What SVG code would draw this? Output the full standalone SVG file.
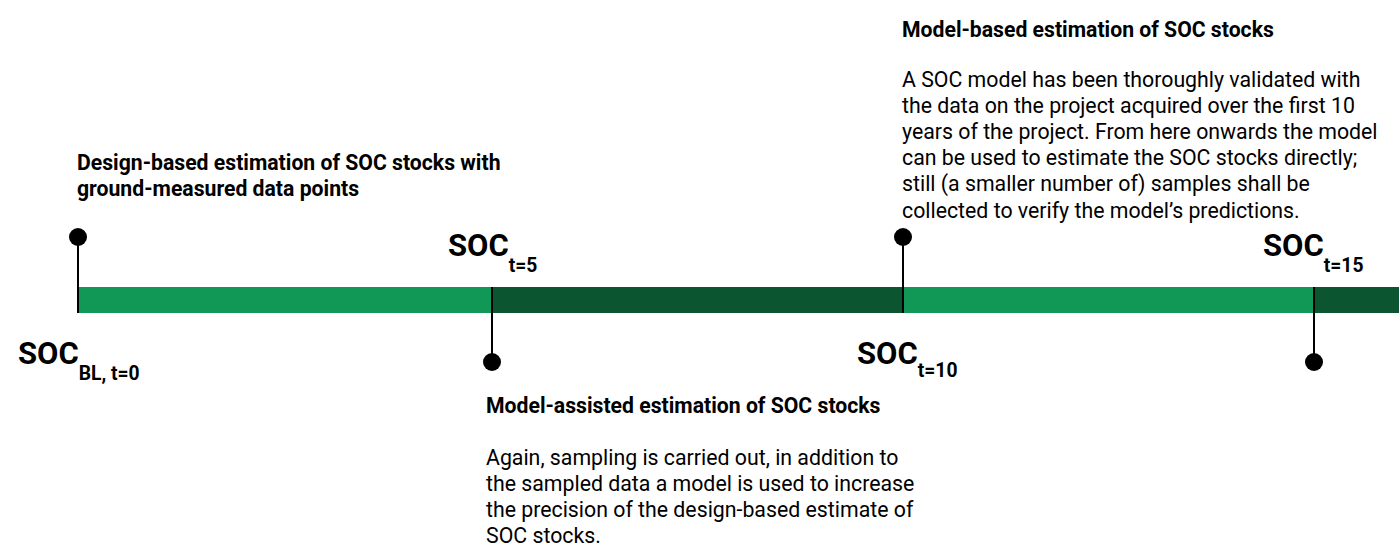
<svg xmlns="http://www.w3.org/2000/svg" width="1399" height="558" viewBox="0 0 1399 558">
<style>
.h{font-family:Roboto,"Liberation Sans",sans-serif;font-weight:bold;font-size:21.2px;fill:#000}
.b{font-family:Roboto,"Liberation Sans",sans-serif;font-size:21.3px;fill:#000}
.soc{font-family:Roboto,"Liberation Sans",sans-serif;font-weight:bold;font-size:31px;fill:#000}
.sub{font-size:19.3px}
.lt{fill:#119856}
.dk{fill:#0b5530}
.st{stroke:#000;stroke-width:2}
</style>
<rect width="1399" height="558" fill="#fff"/>
<g id="bar">
<rect class="lt" x="78" y="287" width="414" height="26"/>
<rect class="dk" x="492" y="287" width="411" height="26"/>
<rect class="lt" x="903" y="287" width="410" height="26"/>
<rect class="dk" x="1313" y="287" width="86" height="26"/>
</g>
<g id="connectors">
<line class="st" x1="78" y1="237" x2="78" y2="313"/>
<line class="st" x1="492" y1="287" x2="492" y2="362"/>
<line class="st" x1="903" y1="237" x2="903" y2="313"/>
<line class="st" x1="1314" y1="287" x2="1314" y2="362"/>
<circle cx="78" cy="237" r="9"/>
<circle cx="492" cy="362" r="9"/>
<circle cx="903" cy="237" r="9"/>
<circle cx="1314" cy="362" r="9"/>
</g>
<g id="soc0"><text class="soc" x="18" y="364">SOC<tspan class="sub" dy="16">BL, t=0</tspan></text></g>
<g id="soc5"><text class="soc" x="448" y="256">SOC<tspan class="sub" dy="16">t=5</tspan></text></g>
<g id="soc10"><text class="soc" x="857" y="364">SOC<tspan class="sub" dy="13">t=10</tspan></text></g>
<g id="soc15"><text class="soc" x="1263" y="256">SOC<tspan class="sub" dy="16">t=15</tspan></text></g>
<g id="design">
<text class="h" x="77" y="170">Design-based estimation of SOC stocks with</text>
<text class="h" x="77" y="196">ground-measured data points</text>
</g>
<g id="modelbased">
<text class="h" x="902" y="37">Model-based estimation of SOC stocks</text>
<text class="b" x="902" y="87">A SOC model has been thoroughly validated with</text>
<text class="b" x="902" y="113">the data on the project acquired over the first 10</text>
<text class="b" x="902" y="139">years of the project. From here onwards the model</text>
<text class="b" x="902" y="165">can be used to estimate the SOC stocks directly;</text>
<text class="b" x="902" y="191">still (a smaller number of) samples shall be</text>
<text class="b" x="902" y="218">collected to verify the model’s predictions.</text>
</g>
<g id="modelassisted">
<text class="h" x="486" y="413">Model-assisted estimation of SOC stocks</text>
<text class="b" x="486" y="465">Again, sampling is carried out, in addition to</text>
<text class="b" x="486" y="491">the sampled data a model is used to increase</text>
<text class="b" x="486" y="517">the precision of the design-based estimate of</text>
<text class="b" x="486" y="543">SOC stocks.</text>
</g>
</svg>
